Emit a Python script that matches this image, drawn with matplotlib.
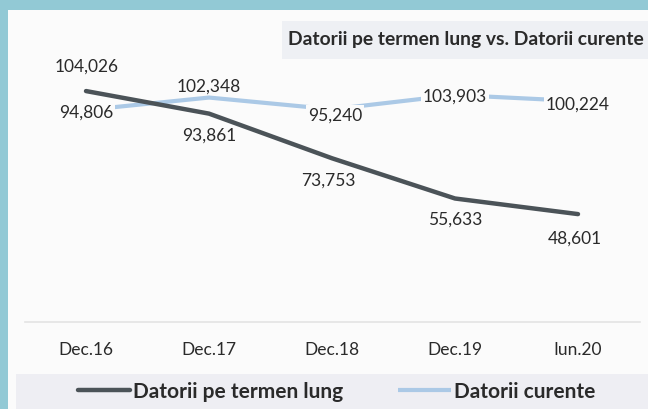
import matplotlib
matplotlib.use("Agg")
import matplotlib.pyplot as plt
from matplotlib.patches import Rectangle

categories = ["Dec.16", "Dec.17", "Dec.18", "Dec.19", "Iun.20"]
long_term = [104026, 93861, 73753, 55633, 48601]
current = [94806, 102348, 95240, 103903, 100224]
long_labels = ["104,026", "93,861", "73,753", "55,633", "48,601"]
current_labels = ["94,806", "102,348", "95,240", "103,903", "100,224"]
title = "Datorii pe termen lung vs. Datorii curente"
series_names = ["Datorii pe termen lung", "Datorii curente"]

plt.rcParams['font.family'] = ['Lato', 'DejaVu Sans']

W, H = 648, 410
fig = plt.figure(figsize=(W / 100, H / 100), dpi=100)
fig.patch.set_facecolor("#fbfbfb")

# frame / bands
teal = "#92c9d5"
fig.patches.append(Rectangle((0, 1 - 11 / H), 1, 11 / H, transform=fig.transFigure,
                             facecolor=teal, edgecolor="none", zorder=0))
fig.patches.append(Rectangle((0, 0), 8 / W, 1, transform=fig.transFigure,
                             facecolor=teal, edgecolor="none", zorder=0))
fig.patches.append(Rectangle((282 / W, 1 - 60 / H), 1 - 282 / W, 38 / H, transform=fig.transFigure,
                             facecolor="#eef0f4", edgecolor="none", zorder=0))
fig.patches.append(Rectangle((16 / W, 0), 1 - 16 / W, 35 / H, transform=fig.transFigure,
                             facecolor="#eeeef3", edgecolor="none", zorder=0))

left, right = 24.5 / W, 639.5 / W
bottom, top = (H - 323) / H, (H - 60) / H
ax = fig.add_axes([left, bottom, right - left, top - bottom])
ax.set_facecolor("none")
ax2 = ax.twinx()
ax2.set_facecolor("none")

x = list(range(len(categories)))
dark = "#4b5358"
light = "#abc9e6"

l2, = ax2.plot(x, current, color=light, lw=3.0, solid_capstyle="butt", zorder=2)
l1, = ax.plot(x, long_term, color=dark, lw=3.2, solid_capstyle="round", zorder=3)
ax.set_zorder(ax2.get_zorder() + 1)

ax.set_ylim(0, 118468)
ax2.set_ylim(-33679, 125715)
ax.set_xlim(-0.5, 4.5)

ax.axhline(0, color="#e4e4e4", lw=1.2, zorder=1, clip_on=False)

for a in (ax, ax2):
    for s in a.spines.values():
        s.set_visible(False)
    a.set_yticks([])
ax.set_xticks(x)
ax.set_xticklabels(categories, fontsize=12.5, color="#2a2a2a")
ax.tick_params(axis="x", length=0, pad=14)
ax2.tick_params(axis="x", length=0)

dark_off = [(1, 25), (0, -21), (-4, -21), (0, -20), (-3, -24)]
light_off = [(0, -2), (0, 12), (3, -5), (0, -1), (0, -3)]
for i in x:
    ax.annotate(long_labels[i], (i, long_term[i]), xytext=dark_off[i], textcoords="offset pixels",
                ha="center", va="center", fontsize=12.5, color="#2a2a2a", zorder=5)
    ax2.annotate(current_labels[i], (i, current[i]), xytext=light_off[i], textcoords="offset pixels",
                 ha="center", va="center", fontsize=12.5, color="#2a2a2a", zorder=4,
                 bbox=dict(boxstyle="square,pad=0.1", fc="#fbfbfb", ec="none"))

fig.text(288 / W, 1 - 40 / H, title, ha="left", va="center", fontsize=13.9,
         fontweight="bold", color="#2a2a2a")

leg = fig.legend([l1, l2], series_names, loc="center", ncol=2,
                 bbox_to_anchor=(336.5 / W, 1 - 392 / H), frameon=False,
                 prop=dict(size=15, weight="bold"), handlelength=2.5,
                 handletextpad=0.15, columnspacing=2.65, labelcolor="#2a2a2a",
                 borderpad=0, borderaxespad=0)

fig.savefig("out.png", dpi=100, facecolor=fig.get_facecolor())
